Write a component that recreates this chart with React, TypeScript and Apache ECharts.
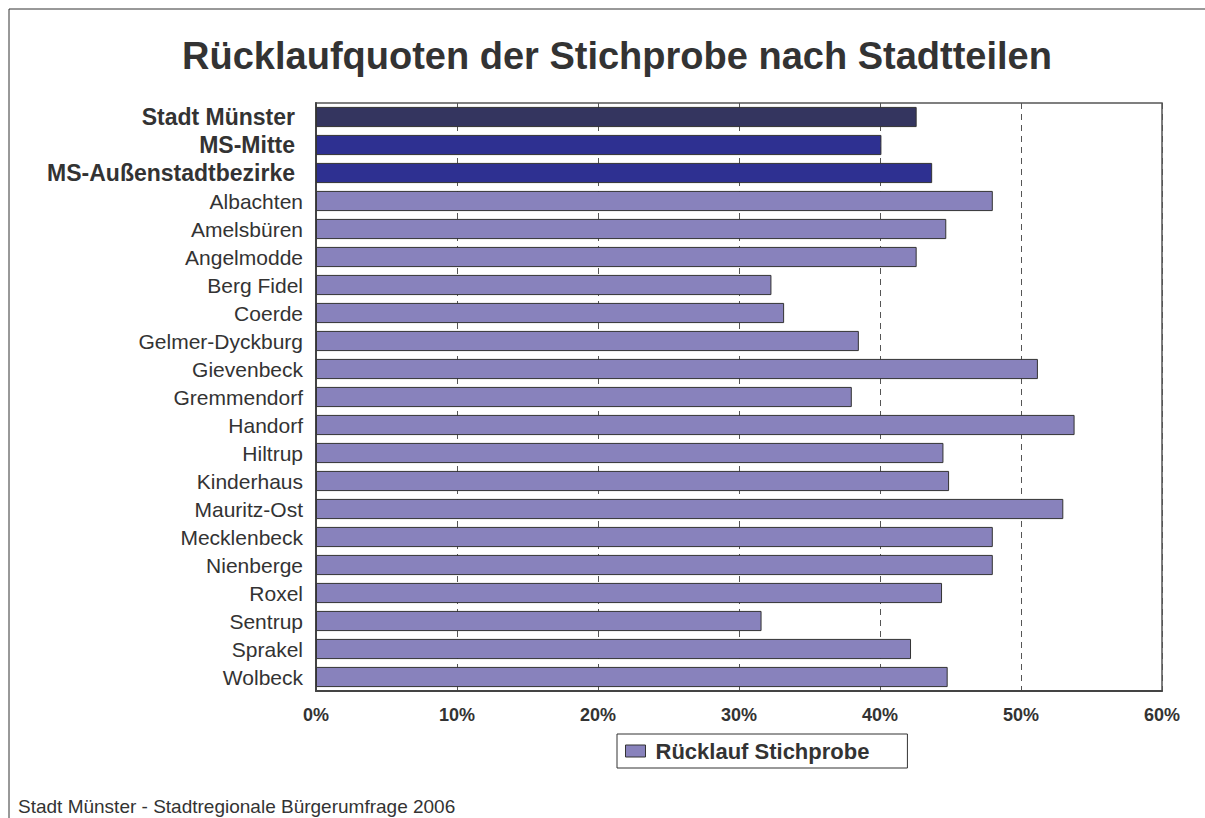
import React, { useEffect, useRef } from "react";
import * as echarts from "echarts";

const categories = [
  "Stadt Münster",
  "MS-Mitte",
  "MS-Außenstadtbezirke",
  "Albachten",
  "Amelsbüren",
  "Angelmodde",
  "Berg Fidel",
  "Coerde",
  "Gelmer-Dyckburg",
  "Gievenbeck",
  "Gremmendorf",
  "Handorf",
  "Hiltrup",
  "Kinderhaus",
  "Mauritz-Ost",
  "Mecklenbeck",
  "Nienberge",
  "Roxel",
  "Sentrup",
  "Sprakel",
  "Wolbeck",
];

const ruecklauf = [
  42.6, 40.1, 43.7, 48.0, 44.7, 42.6, 32.3, 33.2, 38.5, 51.2, 38.0, 53.8, 44.5,
  44.9, 53.0, 48.0, 48.0, 44.4, 31.6, 42.2, 44.8,
];

const highlighted = ["Stadt Münster", "MS-Mitte", "MS-Außenstadtbezirke"];
const seriesName = "Rücklauf Stichprobe";
const titleText = "Rücklaufquoten der Stichprobe nach Stadtteilen";
const sourceText = "Stadt Münster - Stadtregionale Bürgerumfrage 2006";

const COLOR_CITY = "#34355F";
const COLOR_GROUP = "#2E3091";
const COLOR_BAR = "#8882BC";
const TEXT = "#333333";
const FONT = "Liberation Sans, Arial, sans-serif";

export default function App() {
  const ref = useRef<HTMLDivElement>(null);

  useEffect(() => {
    if (!ref.current) return;
    const chart = echarts.init(ref.current, undefined, { renderer: "svg" });

    const data = ruecklauf.map((v, i) => {
      const name = categories[i];
      let color = COLOR_BAR;
      if (name === "Stadt Münster") color = COLOR_CITY;
      else if (highlighted.includes(name)) color = COLOR_GROUP;
      return { value: v, itemStyle: { color } };
    });

    chart.setOption({
      animation: false,
      backgroundColor: "#ffffff",
      textStyle: { fontFamily: FONT },
      graphic: [
        {
          type: "rect",
          shape: { x: 9, y: 9, width: 1210, height: 830 },
          style: { fill: "none", stroke: "#333333", lineWidth: 1 },
          silent: true,
        },
        {
          type: "text",
          x: 617,
          y: 56,
          style: {
            text: titleText,
            fontSize: 38,
            fontWeight: "bold",
            fontFamily: FONT,
            fill: TEXT,
            textAlign: "center",
            textVerticalAlign: "middle",
          },
        },
        {
          type: "text",
          x: 18,
          y: 806,
          style: {
            text: sourceText,
            fontSize: 19,
            fontFamily: FONT,
            fill: TEXT,
            textAlign: "left",
            textVerticalAlign: "middle",
          },
        },
      ],
      legend: {
        data: [seriesName],
        left: 617,
        top: 734,
        orient: "horizontal",
        padding: [6, 38, 6, 8],
        borderColor: "#333333",
        borderWidth: 1,
        backgroundColor: "#ffffff",
        icon: "rect",
        itemWidth: 20,
        itemHeight: 12,
        itemStyle: { color: COLOR_BAR, borderColor: "#333333", borderWidth: 1 },
        textStyle: {
          fontSize: 22,
          fontWeight: "bold",
          color: TEXT,
          fontFamily: FONT,
          padding: [0, 0, 0, 5],
        },
      },
      grid: {
        left: 316,
        top: 103,
        width: 846,
        height: 588,
        show: true,
        borderColor: "#555555",
        borderWidth: 1.5,
        containLabel: false,
      },
      xAxis: {
        type: "value",
        min: 0,
        max: 60,
        interval: 10,
        axisLine: { show: true, lineStyle: { color: "#444444", width: 2 } },
        axisTick: { show: false },
        axisLabel: {
          formatter: "{value}%",
          fontSize: 18,
          fontWeight: "bold",
          color: TEXT,
          fontFamily: FONT,
          margin: 15,
        },
        splitLine: {
          show: true,
          lineStyle: { color: "#555555", width: 1, type: [6, 5] },
        },
      },
      yAxis: {
        type: "category",
        inverse: true,
        data: categories,
        axisLine: { show: true, lineStyle: { color: "#444444", width: 2 } },
        axisTick: { show: false },
        axisLabel: {
          margin: 13,
          color: TEXT,
          fontFamily: FONT,
          formatter: (value: string) =>
            highlighted.includes(value) ? `{b|${value}}` : `{n|${value}}`,
          rich: {
            b: {
              fontSize: 23,
              fontWeight: "bold",
              color: TEXT,
              fontFamily: FONT,
              padding: [0, 8, 0, 0],
            },
            n: { fontSize: 21, color: TEXT, fontFamily: FONT },
          },
        },
        splitLine: { show: false },
      },
      series: [
        {
          name: seriesName,
          type: "bar",
          data,
          barCategoryGap: "28%",
          itemStyle: { color: COLOR_BAR, borderColor: "#333333", borderWidth: 1 },
          z: 3,
        },
      ],
    });

    return () => chart.dispose();
  }, []);

  return (
    <div
      ref={ref}
      style={{ position: "absolute", left: 0, top: 0, width: 1205, height: 818 }}
    />
  );
}
